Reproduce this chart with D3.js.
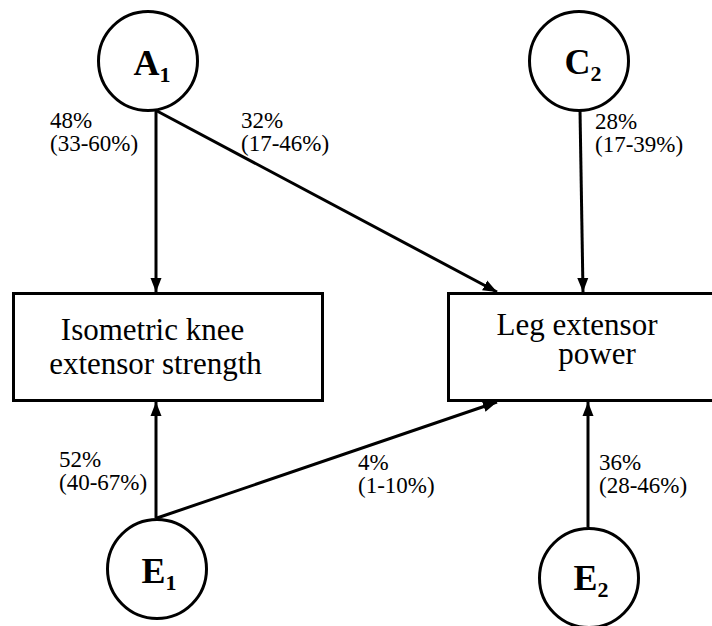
<!DOCTYPE html>
<html lang="en">
<head>
  <meta charset="UTF-8">
  <title>Twin model path diagram</title>
  <script src="https://d3js.org/d3.v7.min.js"></script>
  <style>
    body {
      margin: 0;
      background: #fff;
    }
    .node circle, .box rect {
      fill: none;
      stroke: #000;
      stroke-width: 3;
    }
    .path-line {
      stroke: #000;
      stroke-width: 3;
    }
  </style>
</head>
<body>
  <svg width="712" height="626"></svg>

  <script>
    // latent factors (letter + subscript)
    const factorNames = ["A", "C", "E", "E"];
    const factorSubs = ["1", "2", "1", "2"];

    // observed phenotypes, one entry per line of text
    const phenotypes = [["Isometric knee", "extensor strength"], ["Leg extensor", "power"]];

    // paths: factor index -> phenotype index, estimate and 95% CI
    const pathFrom = [0, 0, 1, 2, 2, 3];
    const pathTo = [0, 1, 1, 0, 1, 1];
    const estimates = [48, 32, 28, 52, 4, 36];
    const ciLow = [33, 17, 17, 40, 1, 28];
    const ciHigh = [60, 46, 39, 67, 10, 46];

    // layout (pixel space)
    const serif = "'Liberation Serif', 'Times New Roman', Times, 'DejaVu Serif', serif";
    const factorPos = [[148, 61], [579, 61], [157, 569], [589, 578]];
    const labelPos = [[152, 75], [583, 74], [159, 583], [591, 590]];
    const r = 49.5;
    const boxes = [{x: 13.5, y: 293.5, w: 309, h: 107}, {x: 448.5, y: 293.5, w: 300, h: 107}];
    const boxText = [[[152.5, 340], [155.5, 374]], [[577, 335], [597, 364]]];
    // line start / end points for each path
    const pathEnds = [
      [[156, 110], [156, 292]],
      [[157, 111], [497, 292]],
      [[580, 110], [583, 292]],
      [[156, 518], [156, 402]],
      [[157, 518], [497, 402]],
      [[588, 527], [588, 402]]
    ];
    const pathLabelPos = [[50, 128], [241, 128], [595, 129], [59, 467], [358, 470], [599, 470]];

    const svg = d3.select("svg")
      .style("font-family", serif);

    svg.append("defs").append("marker")
      .attr("id", "arrow")
      .attr("viewBox", "0 -6 14 12")
      .attr("refX", 14)
      .attr("refY", 0)
      .attr("markerUnits", "userSpaceOnUse")
      .attr("markerWidth", 14)
      .attr("markerHeight", 12)
      .attr("orient", "auto")
      .append("path")
      .attr("d", "M0,-5.5L14,0L0,5.5Z")
      .attr("fill", "#000");

    // boxes
    const box = svg.selectAll(".box")
      .data(phenotypes)
      .enter().append("g")
      .attr("class", "box");

    box.append("rect")
      .attr("x", (d, i) => boxes[i].x)
      .attr("y", (d, i) => boxes[i].y)
      .attr("width", (d, i) => boxes[i].w)
      .attr("height", (d, i) => boxes[i].h);

    box.each(function(lines, i) {
      d3.select(this).selectAll("text")
        .data(lines)
        .enter().append("text")
        .attr("x", (d, j) => boxText[i][j][0])
        .attr("y", (d, j) => boxText[i][j][1])
        .attr("text-anchor", "middle")
        .style("font-size", "31px")
        .text(d => d);
    });

    // paths
    const line = d3.line();
    svg.selectAll(".path-line")
      .data(pathFrom)
      .enter().append("path")
      .attr("class", "path-line")
      .attr("d", (d, i) => line(pathEnds[i]))
      .attr("marker-end", "url(#arrow)");

    // path labels
    const lbl = svg.selectAll(".path-label")
      .data(estimates)
      .enter().append("text")
      .attr("class", "path-label")
      .attr("x", (d, i) => pathLabelPos[i][0])
      .attr("y", (d, i) => pathLabelPos[i][1])
      .style("font-size", "23px");

    lbl.append("tspan").text(d => d + "%");
    lbl.append("tspan")
      .attr("x", (d, i) => pathLabelPos[i][0])
      .attr("dy", 23)
      .text((d, i) => "(" + ciLow[i] + "-" + ciHigh[i] + "%)");

    // latent factors
    const node = svg.selectAll(".node")
      .data(factorNames)
      .enter().append("g")
      .attr("class", "node");

    node.append("circle")
      .attr("cx", (d, i) => factorPos[i][0])
      .attr("cy", (d, i) => factorPos[i][1])
      .attr("r", r)
      .style("fill", "#fff");

    const nt = node.append("text")
      .attr("x", (d, i) => labelPos[i][0])
      .attr("y", (d, i) => labelPos[i][1])
      .attr("text-anchor", "middle")
      .style("font-weight", "bold")
      .style("font-size", "36px");

    nt.append("tspan").text(d => d);
    nt.append("tspan")
      .attr("dy", 7)
      .style("font-size", "22px")
      .text((d, i) => factorSubs[i]);
  </script>
</body>
</html>
